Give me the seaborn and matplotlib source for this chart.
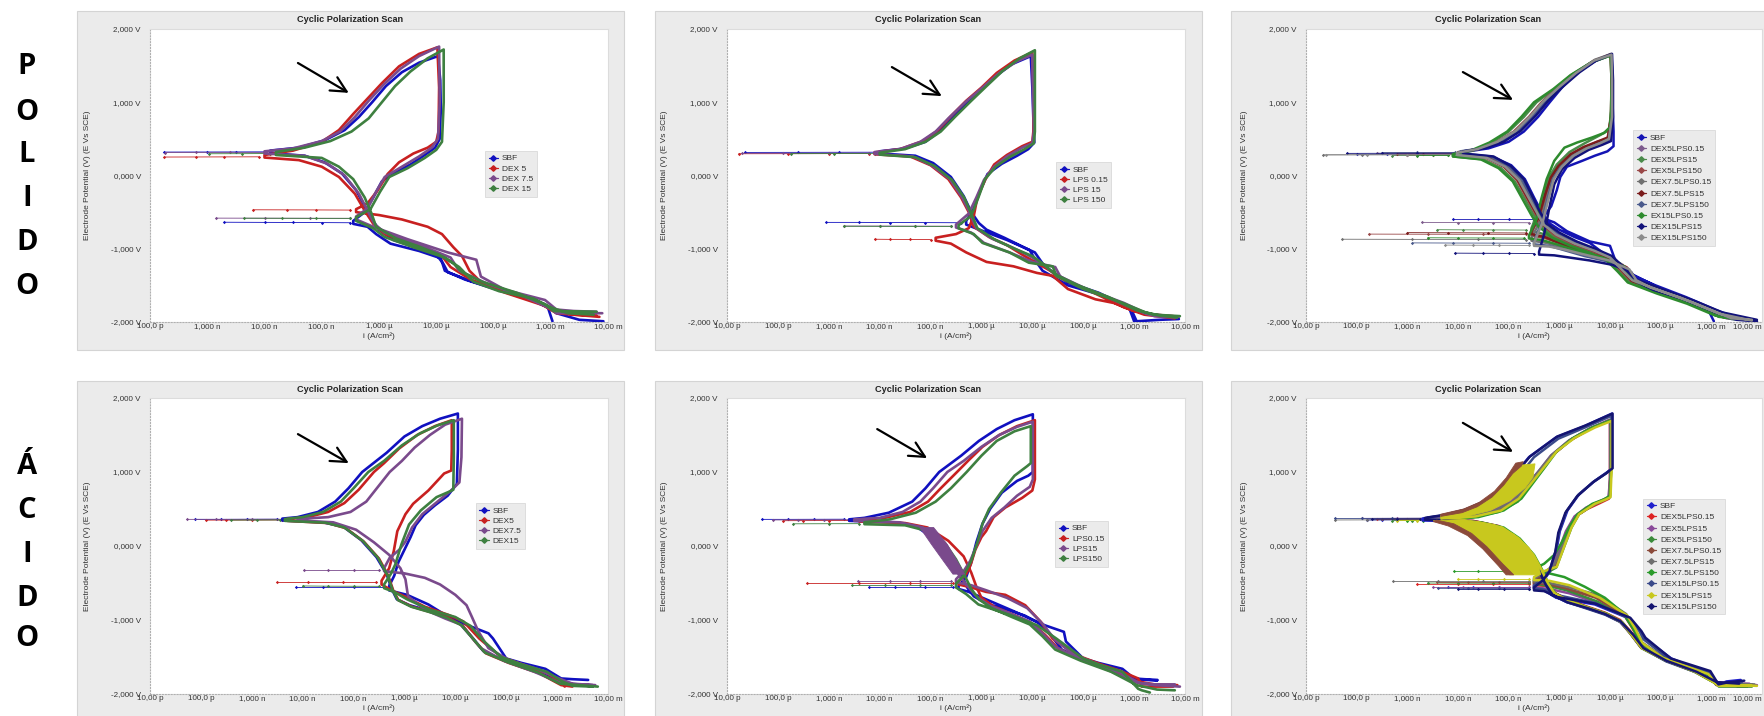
import numpy as np
import pandas as pd
import matplotlib
matplotlib.use("Agg")
import matplotlib.pyplot as plt
import seaborn as sns
from matplotlib.lines import Line2D
from matplotlib.patches import Rectangle, Polygon

# ---------------- DATA (log10 of i [A/cm2], E [V]) ----------------
YTICKS = [-2, -1, 0, 1, 2]
YTICK_LABELS = ["-2,000 V", "-1,000 V", "0,000 V", "1,000 V", "2,000 V"]
XTICKS_A = [-10, -9, -8, -7, -6, -5, -4, -3, -2]
XTICK_LABELS_A = ["100,0 p", "1,000 n", "10,00 n", "100,0 n", "1,000 µ", "10,00 µ", "100,0 µ", "1,000 m", "10,00 m"]
XTICKS_B = [-11, -10, -9, -8, -7, -6, -5, -4, -3, -2]
XTICK_LABELS_B = ["10,00 p", "100,0 p", "1,000 n", "10,00 n", "100,0 n", "1,000 µ", "10,00 µ", "100,0 µ", "1,000 m", "10,00 m"]
ROW_LETTERS_1 = ["P", "O", "L", "I", "D", "O"]
ROW_LETTERS_2 = ["Á", "C", "I", "D", "O"]
TITLE = "Cyclic Polarization Scan"
YLABEL = "Electrode Potential (V) (E Vs SCE)"
XLABEL = "i (A/cm²)"

# ---- Top-left: POLIDO, DEX ----
TL_LABELS = ["SBF", "DEX 5", "DEX 7.5", "DEX 15"]
TL_COLORS = ["#1010c0", "#c82020", "#7a4a8c", "#3e8040"]
TL_SBF = [[-2.08,-1.99],[-2.5,-1.97],[-2.9,-1.88],[-3.1,-1.76],[-3.6,-1.64],[-4.1,-1.52],[-4.5,-1.42],[-4.85,-1.3],[-4.92,-1.13],[-5.3,-1.03],[-5.8,-0.93],[-6.05,-0.8],[-6.2,-0.7],[-6.45,-0.66],
          [-6.45,-0.62],[-6.25,-0.5],[-6.1,-0.3],[-5.95,-0.08],[-5.7,0.05],[-5.45,0.15],[-5.2,0.28],[-5.02,0.38],[-4.94,0.5],[-4.92,0.9],[-4.93,1.3],[-4.97,1.63],[-5.3,1.54],[-5.6,1.41],[-5.88,1.22],[-6.12,1.0],[-6.35,0.8],[-6.6,0.62],[-6.95,0.48],[-7.4,0.38],[-7.9,0.34],
          [-7.9,0.305],[-7.3,0.27],[-6.95,0.18],[-6.65,0.03],[-6.4,-0.2],[-6.25,-0.42],[-6.12,-0.6],[-6.0,-0.74],[-5.75,-0.88],[-5.35,-0.98],[-5.0,-1.08],[-4.88,-1.2],[-4.8,-1.32],[-4.4,-1.44],[-3.9,-1.56],[-3.4,-1.68],[-3.05,-1.8],[-2.97,-1.99]]
TL_SBF_S1 = [[-6.5,-0.645],[-7.0,-0.643],[-7.5,-0.641],[-8.0,-0.64],[-8.7,-0.638]]
TL_SBF_S2 = [[-8.0,0.323],[-8.5,0.322],[-9.0,0.321],[-9.75,0.32]]
TL_DEX5 = [[-2.2,-1.91],[-2.6,-1.9],[-2.9,-1.86],[-3.1,-1.78],[-3.8,-1.6],[-4.2,-1.47],[-4.42,-1.3],[-4.55,-1.1],[-4.7,-0.98],[-4.9,-0.8],[-5.15,-0.7],[-5.6,-0.6],[-6.0,-0.54],[-6.4,-0.5],
           [-6.4,-0.46],[-6.2,-0.38],[-6.02,-0.2],[-5.85,0.02],[-5.65,0.18],[-5.4,0.3],[-5.15,0.38],[-5.0,0.46],[-4.96,0.6],[-4.95,1.2],[-4.98,1.75],[-5.3,1.66],[-5.65,1.49],[-5.95,1.26],[-6.2,1.05],[-6.45,0.84],[-6.7,0.62],[-7.0,0.46],[-7.5,0.34],[-8.0,0.28],
           [-8.0,0.245],[-7.4,0.21],[-7.0,0.12],[-6.7,-0.02],[-6.42,-0.25],[-6.25,-0.48],[-6.1,-0.66],[-5.9,-0.8],[-5.5,-0.92],[-5.15,-1.0],[-4.9,-1.1],[-4.75,-1.25],[-4.4,-1.42],[-3.8,-1.58],[-3.2,-1.74],[-2.9,-1.88],[-2.15,-1.93]]
TL_DEX5_S1 = [[-6.5,-0.472],[-7.1,-0.47],[-7.6,-0.469],[-8.2,-0.468]]
TL_DEX5_S2 = [[-8.1,0.255],[-8.7,0.254],[-9.2,0.253],[-9.75,0.252]]
TL_DEX75 = [[-2.2,-1.86],[-2.6,-1.85],[-2.9,-1.83],[-3.1,-1.7],[-3.8,-1.56],[-4.22,-1.38],[-4.3,-1.15],[-4.8,-1.05],[-5.5,-0.87],[-6.1,-0.7],[-6.4,-0.6],
            [-6.4,-0.56],[-6.2,-0.45],[-6.05,-0.22],[-5.9,-0.02],[-5.6,0.12],[-5.3,0.26],[-5.08,0.38],[-4.97,0.5],[-4.94,1.0],[-4.95,1.76],[-5.3,1.63],[-5.62,1.46],[-5.92,1.24],[-6.18,1.02],[-6.42,0.8],[-6.68,0.6],[-7.0,0.47],[-7.5,0.37],[-8.0,0.33],
            [-8.0,0.3],[-7.3,0.27],[-6.9,0.16],[-6.6,0.0],[-6.35,-0.25],[-6.2,-0.48],[-6.08,-0.66],[-5.9,-0.78],[-5.5,-0.9],[-5.0,-1.04],[-4.75,-1.12],[-4.6,-1.3],[-4.1,-1.48],[-3.5,-1.64],[-3.0,-1.82],[-2.9,-1.88],[-2.1,-1.88]]
TL_DEX75_S1 = [[-6.5,-0.585],[-7.2,-0.584],[-8.0,-0.583],[-8.84,-0.582]]
TL_DEX75_S2 = [[-8.0,0.315],[-8.6,0.315],[-9.2,0.314],[-9.73,0.313]]
TL_DEX15 = [[-2.25,-1.9],[-2.7,-1.88],[-3.0,-1.8],[-3.3,-1.68],[-3.9,-1.58],[-4.35,-1.45],[-4.6,-1.25],[-4.85,-1.12],[-5.4,-0.98],[-5.9,-0.84],[-6.1,-0.72],[-6.4,-0.62],
            [-6.4,-0.57],[-6.15,-0.46],[-5.98,-0.22],[-5.82,-0.02],[-5.5,0.1],[-5.2,0.24],[-5.0,0.35],[-4.9,0.46],[-4.87,1.0],[-4.87,1.72],[-5.15,1.6],[-5.45,1.42],[-5.72,1.22],[-5.95,1.0],[-6.18,0.78],[-6.48,0.6],[-6.85,0.47],[-7.3,0.38],[-7.8,0.32],
            [-7.8,0.28],[-7.0,0.24],[-6.7,0.12],[-6.45,-0.05],[-6.25,-0.3],[-6.13,-0.52],[-6.05,-0.7],[-5.7,-0.86],[-5.3,-0.97],[-4.95,-1.08],[-4.7,-1.2],[-4.55,-1.32],[-4.2,-1.45],[-3.6,-1.6],[-3.1,-1.76],[-2.95,-1.85],[-2.2,-1.86]]
TL_DEX15_S1 = [[-6.5,-0.585],[-7.1,-0.585],[-7.7,-0.584],[-8.36,-0.583]]
TL_DEX15_S2 = [[-7.9,0.3],[-8.4,0.298],[-8.97,0.297]]

# ---- Top-middle: POLIDO, LPS ----
TM_LABELS = ["SBF", "LPS 0.15", "LPS 15", "LPS 150"]
TM_COLORS = ["#1010c0", "#c82020", "#7a4a8c", "#3e8040"]
TM_SBF = [[-2.12,-1.96],[-2.5,-1.97],[-2.95,-1.99],[-3.05,-1.84],[-3.4,-1.7],[-3.7,-1.6],[-4.3,-1.46],[-4.76,-1.24],[-4.95,-1.05],[-5.5,-0.88],[-6.0,-0.75],[-6.3,-0.67],
          [-6.3,-0.62],[-6.15,-0.45],[-6.02,-0.2],[-5.88,0.02],[-5.6,0.16],[-5.3,0.27],[-5.08,0.36],[-4.96,0.45],[-4.97,0.56],[-5.0,1.2],[-5.03,1.63],[-5.4,1.52],[-5.75,1.34],[-6.05,1.15],[-6.29,1.0],[-6.55,0.8],[-6.83,0.6],[-7.1,0.46],[-7.5,0.37],[-8.0,0.33],
          [-8.0,0.3],[-7.3,0.27],[-6.95,0.17],[-6.6,-0.02],[-6.35,-0.28],[-6.2,-0.5],[-6.05,-0.65],[-5.9,-0.74],[-5.55,-0.85],[-5.05,-1.02],[-4.92,-1.18],[-4.8,-1.3],[-4.3,-1.5],[-3.7,-1.62],[-3.1,-1.8],[-3.0,-1.99]]
TM_SBF_S1 = [[-6.4,-0.645],[-7.1,-0.643],[-7.8,-0.642],[-8.4,-0.64],[-9.05,-0.64]]
TM_SBF_S2 = [[-8.0,0.318],[-8.8,0.317],[-9.6,0.316],[-10.65,0.315]]
TM_LPS015 = [[-2.23,-1.92],[-2.6,-1.9],[-3.0,-1.85],[-3.4,-1.74],[-3.76,-1.69],[-4.3,-1.55],[-4.6,-1.37],[-4.91,-1.33],[-5.37,-1.24],[-5.9,-1.18],[-6.3,-1.05],[-6.6,-0.93],[-6.9,-0.89],
             [-6.9,-0.85],[-6.5,-0.8],[-6.25,-0.72],[-6.15,-0.55],[-6.08,-0.3],[-5.92,-0.05],[-5.75,0.15],[-5.5,0.28],[-5.2,0.4],[-5.0,0.46],[-4.98,0.6],[-4.98,1.2],[-5.0,1.68],[-5.35,1.57],[-5.7,1.4],[-6.0,1.2],[-6.3,1.02],[-6.6,0.81],[-6.85,0.62],[-7.15,0.47],[-7.6,0.36],[-8.1,0.315],
             [-8.1,0.29],[-7.4,0.26],[-7.0,0.14],[-6.65,-0.05],[-6.4,-0.3],[-6.25,-0.5],[-6.15,-0.7],[-5.85,-0.84],[-5.5,-0.95],[-5.2,-1.08],[-4.9,-1.2],[-4.65,-1.3],[-4.45,-1.4],[-3.8,-1.6],[-3.2,-1.8],[-2.8,-1.9],[-2.2,-1.95]]
TM_LPS015_S1 = [[-7.0,-0.875],[-7.4,-0.873],[-7.8,-0.872],[-8.1,-0.87]]
TM_LPS015_S2 = [[-8.2,0.3],[-9.0,0.299],[-9.8,0.298],[-10.77,0.297]]
TM_LPS15 = [[-2.16,-1.94],[-2.6,-1.92],[-2.8,-1.87],[-3.2,-1.74],[-3.9,-1.56],[-4.45,-1.38],[-4.55,-1.25],[-5.0,-1.18],[-5.45,-1.05],[-5.95,-0.92],[-6.2,-0.78],[-6.5,-0.71],
            [-6.5,-0.67],[-6.25,-0.52],[-6.1,-0.3],[-5.95,-0.06],[-5.75,0.12],[-5.5,0.26],[-5.2,0.38],[-5.0,0.44],[-4.97,0.6],[-4.99,1.2],[-5.0,1.65],[-5.3,1.56],[-5.65,1.4],[-5.98,1.2],[-6.32,1.0],[-6.65,0.78],[-6.9,0.6],[-7.2,0.46],[-7.6,0.36],[-8.1,0.32],
            [-8.1,0.295],[-7.35,0.26],[-6.98,0.14],[-6.62,-0.05],[-6.38,-0.3],[-6.22,-0.52],[-6.1,-0.72],[-5.8,-0.86],[-5.4,-0.98],[-5.1,-1.08],[-4.85,-1.18],[-4.6,-1.32],[-4.2,-1.48],[-3.6,-1.64],[-3.0,-1.82],[-2.75,-1.89],[-2.12,-1.93]]
TM_LPS15_S1 = [[-6.6,-0.692],[-7.3,-0.691],[-8.0,-0.69],[-8.7,-0.69]]
TM_LPS15_S2 = [[-8.2,0.306],[-9.0,0.305],[-9.9,0.304],[-10.7,0.303]]
TM_LPS150 = [[-2.16,-1.94],[-2.5,-1.91],[-2.77,-1.87],[-3.23,-1.74],[-4.0,-1.55],[-4.53,-1.37],[-4.6,-1.24],[-5.07,-1.19],[-5.45,-1.05],[-5.98,-0.92],[-6.15,-0.8],[-6.45,-0.72],
             [-6.45,-0.68],[-6.2,-0.55],[-6.06,-0.3],[-5.93,-0.05],[-5.72,0.12],[-5.45,0.25],[-5.15,0.36],[-4.97,0.44],[-4.95,0.6],[-4.95,1.2],[-4.95,1.71],[-5.25,1.6],[-5.58,1.43],[-5.9,1.22],[-6.2,1.02],[-6.52,0.8],[-6.8,0.6],[-7.1,0.46],[-7.5,0.36],[-8.0,0.31],
             [-8.0,0.285],[-7.3,0.25],[-6.92,0.13],[-6.58,-0.06],[-6.34,-0.3],[-6.2,-0.52],[-6.08,-0.72],[-5.75,-0.87],[-5.35,-1.0],[-5.0,-1.1],[-4.8,-1.2],[-4.55,-1.35],[-4.1,-1.5],[-3.5,-1.66],[-2.95,-1.84],[-2.6,-1.9],[-2.1,-1.92]]
TM_LPS150_S1 = [[-6.6,-0.695],[-7.3,-0.695],[-8.0,-0.694],[-8.7,-0.693]]
TM_LPS150_S2 = [[-8.1,0.3],[-8.9,0.299],[-9.74,0.298]]

# ---- Top-right: POLIDO, DEX x LPS ----
TR_LABELS = ["SBF", "DEX5LPS0.15", "DEX5LPS15", "DEX5LPS150", "DEX7.5LPS0.15", "DEX7.5LPS15",
             "DEX7.5LPS150", "EX15LPS0.15", "DEX15LPS15", "DEX15LPS150"]
TR_COLORS = ["#1414b4", "#7d5b8c", "#4a8a4a", "#9a4848", "#707070", "#7a1c1c",
             "#4a5a8c", "#2e8b2e", "#12127a", "#8c8c8c"]
TR_SBF = [[-2.95,-1.99],[-3.05,-1.85],[-3.4,-1.72],[-3.9,-1.58],[-4.3,-1.44],[-4.7,-1.3],[-4.9,-1.15],[-5.0,-0.96],[-5.4,-0.9],[-5.85,-0.76],[-6.1,-0.64],[-6.3,-0.59],
          [-6.3,-0.55],[-6.16,-0.42],[-6.05,-0.2],[-5.98,-0.02],[-5.85,0.12],[-5.55,0.2],[-5.3,0.27],[-5.05,0.33],[-4.93,0.4],[-4.93,0.6],[-4.96,1.2],[-4.97,1.65],[-5.3,1.56],[-5.65,1.4],[-5.95,1.2],[-6.19,1.0],[-6.42,0.8],[-6.7,0.6],[-7.0,0.46],[-7.4,0.37],[-7.9,0.32],
          [-7.9,0.29],[-7.3,0.25],[-6.95,0.14],[-6.68,-0.05],[-6.5,-0.3],[-6.35,-0.5],[-6.2,-0.65],[-6.0,-0.74],[-5.7,-0.84],[-5.4,-0.92],[-5.15,-1.05],[-4.9,-1.18],[-4.6,-1.35],[-4.1,-1.5],[-3.5,-1.66],[-2.9,-1.84],[-2.5,-1.94],[-2.1,-1.99]]
TR_SBF_S1 = [[-6.4,-0.6],[-7.0,-0.6],[-7.6,-0.6],[-8.1,-0.6]]
TR_SBF_S2 = [[-8.0,0.3],[-8.7,0.3],[-9.4,0.3],[-10.0,0.3]]
TR_D5L015 = [[-2.3,-1.97],[-2.7,-1.95],[-3.1,-1.82],[-3.7,-1.66],[-4.3,-1.52],[-4.6,-1.38],[-4.75,-1.22],[-5.1,-1.1],[-5.6,-1.0],[-6.0,-0.86],[-6.25,-0.72],[-6.5,-0.66],
             [-6.5,-0.62],[-6.35,-0.45],[-6.22,-0.2],[-6.12,0.0],[-5.95,0.15],[-5.7,0.28],[-5.42,0.38],[-5.15,0.45],[-4.98,0.52],[-4.96,0.8],[-4.96,1.3],[-4.98,1.66],[-5.3,1.57],[-5.68,1.4],[-6.0,1.2],[-6.3,1.0],[-6.56,0.8],[-6.85,0.6],[-7.2,0.45],[-7.6,0.36],[-8.0,0.32],
             [-8.0,0.29],[-7.4,0.25],[-7.05,0.13],[-6.8,-0.05],[-6.6,-0.3],[-6.45,-0.5],[-6.3,-0.66],[-6.05,-0.8],[-5.7,-0.92],[-5.3,-1.02],[-5.0,-1.12],[-4.8,-1.28],[-4.6,-1.42],[-4.0,-1.57],[-3.4,-1.72],[-2.85,-1.88],[-2.4,-1.95]]
TR_D5L015_S1 = [[-6.6,-0.645],[-7.3,-0.643],[-8.0,-0.642],[-8.71,-0.64]]
TR_D5L015_S2 = [[-8.1,0.305],[-8.8,0.304],[-9.6,0.303]]
TR_D5L15 = [[-2.4,-1.96],[-2.8,-1.93],[-3.2,-1.8],[-3.8,-1.64],[-4.35,-1.5],[-4.62,-1.35],[-4.8,-1.2],[-5.2,-1.08],[-5.7,-0.98],[-6.05,-0.88],[-6.3,-0.8],[-6.55,-0.76],
            [-6.55,-0.72],[-6.42,-0.5],[-6.3,-0.25],[-6.2,-0.02],[-6.05,0.15],[-5.8,0.32],[-5.5,0.44],[-5.2,0.55],[-5.02,0.62],[-4.97,0.9],[-4.96,1.3],[-4.98,1.64],[-5.35,1.55],[-5.75,1.38],[-6.1,1.18],[-6.45,1.0],[-6.7,0.8],[-7.0,0.6],[-7.35,0.44],[-7.7,0.34],[-8.1,0.29],
            [-8.1,0.26],[-7.5,0.22],[-7.15,0.1],[-6.88,-0.08],[-6.68,-0.32],[-6.52,-0.52],[-6.38,-0.68],[-6.1,-0.84],[-5.75,-0.95],[-5.35,-1.05],[-5.05,-1.14],[-4.82,-1.3],[-4.62,-1.45],[-4.05,-1.6],[-3.45,-1.74],[-2.9,-1.9],[-2.5,-1.96]]
TR_D5L15_S1 = [[-6.65,-0.745],[-7.3,-0.743],[-7.9,-0.742],[-8.41,-0.74]]
TR_D5L15_S2 = [[-8.2,0.275],[-8.8,0.274],[-9.3,0.273]]
TR_D5L150 = [[-2.35,-1.96],[-2.75,-1.94],[-3.15,-1.82],[-3.75,-1.65],[-4.3,-1.52],[-4.55,-1.4],[-4.68,-1.25],[-5.1,-1.12],[-5.6,-1.02],[-6.0,-0.92],[-6.3,-0.85],[-6.55,-0.82],
             [-6.55,-0.78],[-6.38,-0.55],[-6.26,-0.25],[-6.15,-0.02],[-6.0,0.12],[-5.77,0.28],[-5.5,0.38],[-5.25,0.46],[-5.05,0.5],[-4.98,0.8],[-4.97,1.3],[-4.98,1.65],[-5.32,1.56],[-5.7,1.39],[-6.03,1.2],[-6.35,1.0],[-6.6,0.8],[-6.9,0.6],[-7.25,0.45],[-7.65,0.36],[-8.0,0.31],
             [-8.0,0.275],[-7.45,0.24],[-7.1,0.12],[-6.84,-0.06],[-6.64,-0.31],[-6.48,-0.51],[-6.34,-0.67],[-6.08,-0.82],[-5.72,-0.94],[-5.32,-1.04],[-5.02,-1.13],[-4.78,-1.3],[-4.58,-1.44],[-4.0,-1.58],[-3.4,-1.73],[-2.85,-1.9],[-2.3,-1.97]]
TR_D5L150_S1 = [[-6.65,-0.805],[-7.5,-0.803],[-8.6,-0.802],[-9.76,-0.8]]
TR_D5L150_S2 = [[-8.1,0.285],[-8.5,0.284],[-9.0,0.283]]
TR_D75L015 = [[-2.25,-1.97],[-2.65,-1.95],[-3.05,-1.84],[-3.65,-1.67],[-4.25,-1.53],[-4.5,-1.42],[-4.65,-1.28],[-5.05,-1.15],[-5.55,-1.06],[-5.95,-0.98],[-6.25,-0.92],[-6.55,-0.89],
              [-6.55,-0.85],[-6.36,-0.6],[-6.24,-0.3],[-6.14,-0.05],[-5.98,0.12],[-5.75,0.27],[-5.48,0.37],[-5.22,0.44],[-5.03,0.5],[-4.97,0.8],[-4.96,1.3],[-4.97,1.66],[-5.3,1.58],[-5.66,1.41],[-5.98,1.22],[-6.3,1.02],[-6.55,0.82],[-6.84,0.61],[-7.2,0.46],[-7.6,0.36],[-8.0,0.31],
              [-8.0,0.275],[-7.4,0.24],[-7.05,0.12],[-6.78,-0.06],[-6.58,-0.3],[-6.43,-0.5],[-6.3,-0.66],[-6.05,-0.8],[-5.7,-0.92],[-5.3,-1.03],[-5.0,-1.12],[-4.76,-1.28],[-4.56,-1.43],[-3.98,-1.58],[-3.38,-1.73],[-2.82,-1.89],[-2.2,-1.98]]
TR_D75L015_S1 = [[-6.65,-0.875],[-7.6,-0.873],[-8.9,-0.872],[-10.28,-0.87]]
TR_D75L015_S2 = [[-8.1,0.285],[-9.0,0.284],[-9.9,0.283],[-10.66,0.282]]
TR_D75L15 = [[-2.3,-1.96],[-2.7,-1.94],[-3.1,-1.83],[-3.7,-1.66],[-4.28,-1.52],[-4.52,-1.42],[-4.66,-1.26],[-5.08,-1.13],[-5.58,-1.03],[-5.98,-0.93],[-6.28,-0.84],[-6.55,-0.8],
             [-6.55,-0.76],[-6.4,-0.55],[-6.28,-0.26],[-6.17,-0.03],[-6.02,0.13],[-5.78,0.29],[-5.52,0.39],[-5.26,0.46],[-5.04,0.52],[-4.98,0.8],[-4.97,1.3],[-4.99,1.65],[-5.33,1.56],[-5.7,1.39],[-6.02,1.2],[-6.33,1.0],[-6.58,0.8],[-6.87,0.6],[-7.22,0.45],[-7.62,0.36],[-8.0,0.31],
             [-8.0,0.28],[-7.42,0.245],[-7.08,0.12],[-6.82,-0.06],[-6.62,-0.31],[-6.46,-0.51],[-6.32,-0.67],[-6.06,-0.81],[-5.71,-0.93],[-5.31,-1.03],[-5.01,-1.12],[-4.77,-1.29],[-4.57,-1.44],[-3.99,-1.58],[-3.39,-1.73],[-2.84,-1.89],[-2.25,-1.97]]
TR_D75L15_S1 = [[-6.65,-0.785],[-7.4,-0.783],[-8.2,-0.782],[-9.0,-0.78]]
TR_D75L15_S2 = [[-8.1,0.295],[-8.7,0.294],[-9.2,0.293]]
TR_D75L150 = [[-2.2,-1.98],[-2.6,-1.96],[-3.0,-1.85],[-3.6,-1.68],[-4.2,-1.54],[-4.48,-1.44],[-4.62,-1.3],[-5.0,-1.18],[-5.5,-1.1],[-5.9,-1.02],[-6.2,-0.96],[-6.5,-0.94],
              [-6.5,-0.9],[-6.34,-0.62],[-6.22,-0.3],[-6.12,-0.04],[-5.96,0.12],[-5.72,0.27],[-5.45,0.37],[-5.2,0.44],[-5.02,0.49],[-4.96,0.8],[-4.95,1.3],[-4.97,1.65],[-5.28,1.57],[-5.63,1.41],[-5.95,1.22],[-6.26,1.02],[-6.5,0.82],[-6.8,0.61],[-7.15,0.46],[-7.55,0.37],[-7.95,0.33],
              [-7.95,0.3],[-7.35,0.26],[-7.0,0.13],[-6.74,-0.05],[-6.55,-0.3],[-6.4,-0.5],[-6.27,-0.66],[-6.03,-0.8],[-5.68,-0.91],[-5.28,-1.02],[-4.98,-1.11],[-4.75,-1.27],[-4.55,-1.42],[-3.97,-1.57],[-3.37,-1.72],[-2.8,-1.88],[-2.15,-1.98]]
TR_D75L150_S1 = [[-6.6,-0.925],[-7.3,-0.923],[-8.1,-0.922],[-8.9,-0.92]]
TR_D75L150_S2 = [[-8.05,0.315],[-8.8,0.314],[-9.5,0.313]]
TR_EX15L015 = [[-2.45,-1.95],[-2.85,-1.93],[-3.2,-1.81],[-3.8,-1.65],[-4.35,-1.51],[-4.6,-1.4],[-4.72,-1.24],[-5.15,-1.12],[-5.65,-1.03],[-6.05,-0.94],[-6.35,-0.88],[-6.6,-0.86],
               [-6.6,-0.82],[-6.45,-0.6],[-6.36,-0.33],[-6.25,-0.05],[-6.1,0.2],[-5.9,0.38],[-5.65,0.45],[-5.35,0.52],[-5.12,0.58],[-5.0,0.66],[-4.98,0.9],[-4.97,1.3],[-4.99,1.64],[-5.38,1.54],[-5.78,1.37],[-6.12,1.18],[-6.5,1.0],[-6.75,0.8],[-7.03,0.6],[-7.38,0.45],[-7.75,0.34],[-8.1,0.29],
               [-8.1,0.26],[-7.55,0.22],[-7.2,0.1],[-6.92,-0.08],[-6.72,-0.33],[-6.56,-0.53],[-6.42,-0.69],[-6.14,-0.85],[-5.78,-0.96],[-5.38,-1.06],[-5.08,-1.15],[-4.85,-1.31],[-4.65,-1.46],[-4.08,-1.61],[-3.48,-1.75],[-2.93,-1.91],[-2.55,-1.96]]
TR_EX15L015_S1 = [[-6.7,-0.855],[-7.3,-0.853],[-8.0,-0.852],[-8.6,-0.85]]
TR_EX15L015_S2 = [[-8.2,0.275],[-8.5,0.274],[-8.8,0.273]]
TR_D15L15 = [[-2.1,-1.99],[-2.5,-1.97],[-2.95,-1.86],[-3.55,-1.69],[-4.15,-1.56],[-4.45,-1.46],[-4.58,-1.32],[-4.95,-1.22],[-5.4,-1.16],[-5.8,-1.12],[-6.1,-1.09],[-6.4,-1.08],
             [-6.4,-1.04],[-6.3,-0.8],[-6.2,-0.45],[-6.1,-0.12],[-5.95,0.08],[-5.7,0.24],[-5.42,0.35],[-5.15,0.42],[-4.98,0.47],[-4.94,0.8],[-4.94,1.3],[-4.96,1.66],[-5.27,1.57],[-5.6,1.41],[-5.92,1.22],[-6.22,1.02],[-6.46,0.82],[-6.76,0.61],[-7.1,0.46],[-7.5,0.37],[-7.9,0.33],
             [-7.9,0.3],[-7.3,0.26],[-6.96,0.13],[-6.7,-0.05],[-6.52,-0.3],[-6.38,-0.5],[-6.24,-0.66],[-6.0,-0.78],[-5.66,-0.9],[-5.26,-1.01],[-4.96,-1.1],[-4.72,-1.26],[-4.52,-1.41],[-3.94,-1.56],[-3.34,-1.71],[-2.78,-1.87],[-2.1,-1.97]]
TR_D15L15_S1 = [[-6.5,-1.065],[-7.0,-1.063],[-7.5,-1.062],[-8.06,-1.06]]
TR_D15L15_S2 = [[-8.0,0.305],[-8.8,0.304],[-9.5,0.303],[-10.2,0.302]]
TR_D15L150 = [[-2.2,-1.97],[-2.6,-1.95],[-3.0,-1.84],[-3.6,-1.67],[-4.2,-1.53],[-4.48,-1.43],[-4.62,-1.28],[-5.02,-1.16],[-5.5,-1.08],[-5.9,-1.01],[-6.2,-0.97],[-6.5,-0.96],
              [-6.5,-0.92],[-6.33,-0.64],[-6.21,-0.31],[-6.11,-0.05],[-5.95,0.12],[-5.72,0.27],[-5.46,0.37],[-5.2,0.44],[-5.02,0.5],[-4.96,0.8],[-4.96,1.3],[-4.97,1.65],[-5.31,1.57],[-5.67,1.4],[-6.0,1.21],[-6.32,1.01],[-6.57,0.81],[-6.86,0.61],[-7.22,0.46],[-7.62,0.36],[-8.02,0.31],
              [-8.02,0.28],[-7.43,0.24],[-7.07,0.12],[-6.8,-0.06],[-6.6,-0.31],[-6.44,-0.51],[-6.31,-0.67],[-6.06,-0.81],[-5.7,-0.93],[-5.3,-1.03],[-5.0,-1.12],[-4.76,-1.29],[-4.56,-1.43],[-3.98,-1.58],[-3.38,-1.73],[-2.82,-1.89],[-2.2,-1.98]]
TR_D15L150_S1 = [[-6.6,-0.955],[-7.2,-0.953],[-7.7,-0.952],[-8.25,-0.95]]
TR_D15L150_S2 = [[-8.1,0.285],[-9.0,0.284],[-9.8,0.283],[-10.6,0.282]]

# ---- Bottom-left: ÁCIDO, DEX ----
BL_LABELS = ["SBF", "DEX5", "DEX7.5", "DEX15"]
BL_COLORS = ["#1010c0", "#c82020", "#7a4a8c", "#3e8040"]
BL_SBF = [[-2.39,-1.81],[-2.7,-1.8],[-2.92,-1.79],[-3.23,-1.66],[-3.7,-1.58],[-4.0,-1.52],[-4.26,-1.25],[-4.35,-1.18],[-4.76,-1.07],[-5.2,-0.93],[-5.53,-0.79],[-5.95,-0.66],[-6.3,-0.6],
          [-6.3,-0.54],[-6.2,-0.4],[-6.12,-0.22],[-6.0,-0.05],[-5.88,0.12],[-5.78,0.28],[-5.62,0.42],[-5.4,0.55],[-5.15,0.68],[-4.97,0.84],[-4.95,1.3],[-4.95,1.79],[-5.3,1.72],[-5.65,1.62],[-6.0,1.48],[-6.35,1.26],[-6.83,1.0],[-7.1,0.78],[-7.36,0.6],[-7.7,0.46],[-8.1,0.39],[-8.4,0.37],
          [-8.4,0.345],[-7.6,0.32],[-7.2,0.26],[-6.85,0.08],[-6.55,-0.15],[-6.35,-0.38],[-6.25,-0.58],[-6.15,-0.72],[-5.9,-0.8],[-5.5,-0.88],[-5.2,-0.95],[-4.9,-1.05],[-4.65,-1.25],[-4.45,-1.42],[-4.0,-1.56],[-3.4,-1.7],[-2.95,-1.82],[-2.75,-1.86]]
BL_SBF_S1 = [[-6.4,-0.56],[-7.0,-0.56],[-7.6,-0.56],[-8.13,-0.56]]
BL_SBF_S2 = [[-8.5,0.362],[-9.1,0.361],[-9.6,0.36],[-10.12,0.36]]
BL_DEX5 = [[-2.85,-1.9],[-2.9,-1.85],[-3.2,-1.72],[-3.6,-1.62],[-4.1,-1.5],[-4.53,-1.25],[-4.84,-1.02],[-5.14,-0.93],[-5.6,-0.82],[-6.0,-0.68],[-6.25,-0.6],[-6.45,-0.52],
           [-6.45,-0.47],[-6.3,-0.3],[-6.21,-0.07],[-6.14,0.2],[-5.98,0.43],[-5.83,0.57],[-5.53,0.75],[-5.22,0.98],[-5.08,1.02],[-5.07,1.3],[-5.07,1.7],[-5.4,1.62],[-5.75,1.5],[-6.1,1.32],[-6.4,1.12],[-6.6,1.0],[-6.9,0.76],[-7.18,0.58],[-7.5,0.46],[-7.9,0.39],[-8.3,0.365],
           [-8.3,0.34],[-7.5,0.31],[-7.15,0.24],[-6.8,0.06],[-6.5,-0.17],[-6.32,-0.4],[-6.22,-0.6],[-6.12,-0.73],[-5.85,-0.82],[-5.45,-0.9],[-5.14,-0.97],[-4.85,-1.08],[-4.6,-1.3],[-4.4,-1.45],[-3.95,-1.58],[-3.35,-1.72],[-2.92,-1.88],[-2.7,-1.9]]
BL_DEX5_S1 = [[-6.55,-0.49],[-7.2,-0.49],[-7.9,-0.49],[-8.51,-0.49]]
BL_DEX5_S2 = [[-8.4,0.352],[-9.0,0.351],[-9.5,0.35],[-9.9,0.35]]
BL_DEX75 = [[-2.3,-1.88],[-2.7,-1.86],[-3.0,-1.78],[-3.4,-1.66],[-3.95,-1.54],[-4.35,-1.38],[-4.55,-1.15],[-4.68,-0.95],[-4.78,-0.8],[-5.0,-0.66],[-5.3,-0.52],[-5.6,-0.43],[-6.0,-0.37],[-6.4,-0.34],
            [-6.4,-0.3],[-6.29,-0.16],[-6.1,-0.05],[-5.98,0.06],[-5.85,0.25],[-5.65,0.43],[-5.35,0.6],[-5.1,0.74],[-4.92,0.86],[-4.88,1.2],[-4.87,1.72],[-5.2,1.64],[-5.5,1.5],[-5.8,1.33],[-6.05,1.15],[-6.29,1.0],[-6.52,0.8],[-6.75,0.6],[-7.06,0.46],[-7.5,0.39],[-8.1,0.365],
            [-8.1,0.345],[-7.4,0.32],[-6.95,0.22],[-6.6,0.05],[-6.3,-0.12],[-6.08,-0.3],[-5.98,-0.45],[-5.93,-0.68],[-5.6,-0.86],[-5.2,-0.98],[-4.9,-1.06],[-4.72,-1.2],[-4.5,-1.38],[-4.05,-1.55],[-3.45,-1.7],[-2.9,-1.86],[-2.25,-1.88]]
BL_DEX75_S1 = [[-6.5,-0.32],[-7.0,-0.32],[-7.5,-0.32],[-7.97,-0.32]]
BL_DEX75_S2 = [[-8.2,0.362],[-9.0,0.361],[-9.7,0.36],[-10.27,0.36]]
BL_DEX15 = [[-2.3,-1.9],[-2.7,-1.89],[-2.9,-1.83],[-3.2,-1.7],[-3.7,-1.6],[-4.1,-1.5],[-4.45,-1.28],[-4.7,-1.08],[-5.0,-0.96],[-5.5,-0.86],[-5.95,-0.72],[-6.2,-0.62],[-6.4,-0.57],
            [-6.4,-0.52],[-6.27,-0.38],[-6.18,-0.25],[-6.06,0.02],[-5.91,0.29],[-5.68,0.48],[-5.37,0.66],[-5.1,0.74],[-5.04,0.76],[-5.03,1.2],[-5.03,1.7],[-5.35,1.63],[-5.7,1.52],[-6.05,1.36],[-6.4,1.15],[-6.71,1.0],[-7.0,0.78],[-7.25,0.6],[-7.6,0.46],[-8.0,0.39],[-8.35,0.365],
            [-8.35,0.34],[-7.55,0.315],[-7.18,0.25],[-6.82,0.07],[-6.52,-0.16],[-6.33,-0.4],[-6.23,-0.6],[-6.13,-0.73],[-5.87,-0.82],[-5.47,-0.9],[-5.17,-0.97],[-4.88,-1.07],[-4.62,-1.28],[-4.42,-1.44],[-3.97,-1.57],[-3.37,-1.71],[-2.95,-1.86],[-2.2,-1.9]]
BL_DEX15_S1 = [[-6.5,-0.545],[-7.0,-0.544],[-7.5,-0.543],[-8.0,-0.54]]
BL_DEX15_S2 = [[-8.45,0.352],[-8.9,0.351],[-9.4,0.35]]

# ---- Bottom-middle: ÁCIDO, LPS ----
BM_LABELS = ["SBF", "LPS0.15", "LPS15", "LPS150"]
BM_COLORS = ["#1010c0", "#c82020", "#7a4a8c", "#3e8040"]
BM_SBF = [[-2.54,-1.81],[-2.8,-1.8],[-3.0,-1.79],[-3.23,-1.66],[-3.7,-1.58],[-4.0,-1.52],[-4.34,-1.29],[-4.38,-1.16],[-4.76,-1.07],[-5.37,-0.88],[-5.98,-0.7],[-6.25,-0.62],[-6.45,-0.58],
          [-6.45,-0.54],[-6.3,-0.42],[-6.2,-0.22],[-6.1,0.05],[-5.98,0.3],[-5.83,0.5],[-5.6,0.72],[-5.3,0.88],[-5.08,0.95],[-4.99,1.0],[-4.99,1.4],[-4.99,1.78],[-5.35,1.7],[-5.7,1.58],[-6.05,1.42],[-6.4,1.22],[-6.83,1.0],[-7.1,0.78],[-7.36,0.6],[-7.82,0.45],[-8.3,0.38],[-8.6,0.36],
          [-8.6,0.34],[-7.7,0.32],[-7.25,0.25],[-6.9,0.08],[-6.6,-0.15],[-6.4,-0.38],[-6.28,-0.56],[-6.15,-0.68],[-5.9,-0.78],[-5.5,-0.86],[-5.15,-0.94],[-4.88,-1.04],[-4.62,-1.22],[-4.42,-1.4],[-3.95,-1.55],[-3.35,-1.7],[-2.92,-1.8],[-2.55,-1.82]]
BM_SBF_S1 = [[-6.55,-0.56],[-7.1,-0.56],[-7.7,-0.56],[-8.2,-0.56]]
BM_SBF_S2 = [[-8.7,0.362],[-9.3,0.361],[-9.8,0.36],[-10.31,0.36]]
BM_LPS015 = [[-2.23,-1.9],[-2.6,-1.9],[-2.85,-1.9],[-2.92,-1.79],[-3.3,-1.68],[-3.61,-1.61],[-4.15,-1.47],[-4.6,-1.25],[-4.84,-1.02],[-5.14,-0.8],[-5.53,-0.66],[-5.91,-0.62],[-6.2,-0.56],[-6.45,-0.52],
             [-6.45,-0.48],[-6.3,-0.38],[-6.21,-0.25],[-6.12,-0.05],[-6.0,0.12],[-5.91,0.2],[-5.76,0.39],[-5.53,0.52],[-5.2,0.65],[-5.0,0.75],[-4.95,0.9],[-4.95,1.3],[-4.95,1.7],[-5.3,1.62],[-5.65,1.5],[-5.98,1.34],[-6.25,1.16],[-6.48,1.0],[-6.8,0.78],[-7.05,0.6],[-7.4,0.46],[-7.9,0.38],[-8.4,0.35],
             [-8.4,0.33],[-7.5,0.31],[-7.06,0.25],[-6.65,0.07],[-6.35,-0.14],[-6.2,-0.36],[-6.1,-0.55],[-6.0,-0.7],[-5.75,-0.82],[-5.3,-0.95],[-5.0,-1.05],[-4.75,-1.2],[-4.5,-1.38],[-4.1,-1.52],[-3.5,-1.66],[-3.0,-1.82],[-2.6,-1.87],[-2.15,-1.88]]
BM_LPS015_S1 = [[-6.55,-0.5],[-7.4,-0.5],[-8.4,-0.5],[-9.43,-0.5]]
BM_LPS015_S2 = [[-8.5,0.345],[-9.0,0.344],[-9.5,0.343],[-9.9,0.342]]
BM_LPS15 = [[-2.2,-1.87],[-2.6,-1.87],[-2.9,-1.85],[-3.3,-1.7],[-3.7,-1.6],[-4.2,-1.46],[-4.55,-1.27],[-4.8,-1.05],[-5.1,-0.84],[-5.5,-0.7],[-5.9,-0.6],[-6.2,-0.53],[-6.5,-0.49],
            [-6.5,-0.45],[-6.35,-0.34],[-6.22,-0.2],[-6.1,0.0],[-5.98,0.2],[-5.8,0.38],[-5.55,0.52],[-5.3,0.68],[-5.05,0.8],[-4.99,0.9],[-4.99,1.3],[-4.99,1.68],[-5.3,1.61],[-5.65,1.5],[-6.0,1.34],[-6.35,1.15],[-6.67,1.0],[-6.95,0.78],[-7.2,0.6],[-7.55,0.46],[-8.0,0.38],[-8.5,0.36],
            [-8.5,0.34],[-7.6,0.32],[-7.15,0.25],[-6.85,0.05],[-6.62,-0.18],[-6.45,-0.38],[-6.3,-0.52],[-6.1,-0.68],[-5.85,-0.8],[-5.4,-0.92],[-5.05,-1.02],[-4.8,-1.18],[-4.55,-1.36],[-4.1,-1.52],[-3.5,-1.68],[-3.0,-1.84],[-2.6,-1.88],[-2.1,-1.9]]
BM_LPS15_S1 = [[-6.6,-0.47],[-7.2,-0.47],[-7.8,-0.47],[-8.43,-0.47]]
BM_LPS15_S2 = [[-8.6,0.355],[-9.1,0.354],[-9.6,0.353],[-10.1,0.352]]
BM_LPS150 = [[-2.69,-1.98],[-2.85,-1.95],[-2.92,-1.93],[-3.23,-1.7],[-3.7,-1.6],[-4.0,-1.52],[-4.53,-1.25],[-4.91,-1.07],[-5.45,-0.93],[-6.06,-0.79],[-6.3,-0.65],[-6.5,-0.56],
             [-6.5,-0.51],[-6.35,-0.4],[-6.2,-0.2],[-6.08,0.05],[-5.98,0.3],[-5.85,0.5],[-5.62,0.72],[-5.35,0.95],[-5.1,1.08],[-5.03,1.12],[-5.03,1.62],[-5.35,1.55],[-5.7,1.42],[-6.0,1.22],[-6.29,1.0],[-6.6,0.78],[-6.9,0.6],[-7.29,0.45],[-7.8,0.36],[-8.3,0.32],
             [-8.3,0.295],[-7.5,0.28],[-7.05,0.2],[-6.72,0.04],[-6.5,-0.18],[-6.33,-0.4],[-6.2,-0.58],[-6.05,-0.72],[-5.8,-0.84],[-5.4,-0.96],[-5.05,-1.06],[-4.8,-1.22],[-4.55,-1.4],[-4.05,-1.55],[-3.45,-1.7],[-2.95,-1.88],[-2.55,-1.94],[-2.2,-1.95]]
BM_LPS150_S1 = [[-6.6,-0.53],[-7.2,-0.53],[-7.9,-0.53],[-8.55,-0.53]]
BM_LPS150_S2 = [[-8.4,0.302],[-9.0,0.301],[-9.7,0.3]]
BM_LPS15_BAND = [[-7.21,0.25],[-6.98,0.02],[-6.75,-0.2],[-6.56,-0.38],[-6.33,-0.38],[-6.48,-0.2],[-6.67,0.02],[-6.94,0.25]]

# ---- Bottom-right: ÁCIDO, DEX x LPS ----
BR_LABELS = ["SBF", "DEX5LPS0.15", "DEX5LPS15", "DEX5LPS150", "DEX7.5LPS0.15", "DEX7.5LPS15",
             "DEX7.5LPS150", "DEX15LPS0.15", "DEX15LPS15", "DEX15LPS150"]
BR_COLORS = ["#1f1fcc", "#dd2222", "#8a4a9a", "#3a8a3a", "#8b4a3a", "#6e6e6e",
             "#2a9a2a", "#3a4a8a", "#c8c81e", "#141470"]
BR_SBF = [[-2.42,-1.81],[-2.7,-1.83],[-2.88,-1.88],[-3.03,-1.7],[-3.5,-1.6],[-3.79,-1.52],[-4.32,-1.25],[-4.39,-1.16],[-4.62,-0.98],[-5.3,-0.79],[-6.06,-0.7],[-6.3,-0.6],[-6.5,-0.58],
          [-6.5,-0.54],[-6.3,-0.45],[-6.18,-0.34],[-6.06,-0.07],[-5.99,0.2],[-5.84,0.48],[-5.61,0.7],[-5.3,0.88],[-5.05,1.0],[-4.96,1.05],[-4.96,1.4],[-4.96,1.79],[-5.5,1.62],[-6.06,1.47],[-6.6,1.2],[-6.98,0.88],[-7.43,0.61],[-7.89,0.48],[-8.3,0.41],[-8.7,0.37],
          [-8.7,0.345],[-7.9,0.33],[-7.3,0.26],[-6.95,0.12],[-6.6,-0.12],[-6.4,-0.35],[-6.28,-0.52],[-6.15,-0.66],[-5.85,-0.76],[-5.45,-0.84],[-5.1,-0.92],[-4.8,-1.02],[-4.55,-1.2],[-4.35,-1.38],[-3.9,-1.55],[-3.3,-1.7],[-2.9,-1.84],[-2.5,-1.88]]
BR_SBF_S1 = [[-6.6,-0.56],[-7.2,-0.56],[-7.7,-0.56],[-8.19,-0.56]]
BR_SBF_S2 = [[-8.8,0.355],[-9.2,0.354],[-9.5,0.353],[-9.8,0.352]]
BR_D5L015 = [[-2.3,-1.88],[-2.6,-1.88],[-2.9,-1.86],[-3.1,-1.72],[-3.6,-1.6],[-4.0,-1.5],[-4.4,-1.3],[-4.55,-1.12],[-4.72,-0.93],[-5.3,-0.68],[-5.9,-0.58],[-6.2,-0.54],[-6.5,-0.53],
             [-6.5,-0.49],[-6.3,-0.4],[-6.12,-0.25],[-5.98,-0.02],[-5.85,0.2],[-5.68,0.4],[-5.45,0.5],[-5.2,0.58],[-5.02,0.64],[-5.0,0.9],[-5.0,1.3],[-5.0,1.7],[-5.4,1.58],[-5.8,1.42],[-6.15,1.22],[-6.4,1.0],[-6.65,0.8],[-6.9,0.62],[-7.3,0.48],[-7.8,0.41],[-8.4,0.38],
             [-8.4,0.355],[-7.7,0.34],[-7.2,0.27],[-6.85,0.12],[-6.55,-0.1],[-6.38,-0.3],[-6.26,-0.48],[-6.12,-0.62],[-5.85,-0.72],[-5.45,-0.82],[-5.1,-0.9],[-4.8,-1.0],[-4.6,-1.15],[-4.4,-1.34],[-3.95,-1.52],[-3.35,-1.68],[-2.9,-1.85],[-2.2,-1.87]]
BR_D5L015_S1 = [[-6.6,-0.52],[-7.3,-0.52],[-8.0,-0.52],[-8.8,-0.52]]
BR_D5L015_S2 = [[-8.5,0.365],[-9.0,0.364],[-9.6,0.363]]
BR_D5L15 = [[-2.25,-1.86],[-2.6,-1.86],[-2.88,-1.84],[-3.1,-1.7],[-3.6,-1.58],[-4.0,-1.48],[-4.42,-1.28],[-4.55,-1.1],[-4.7,-0.95],[-5.2,-0.78],[-5.8,-0.64],[-6.2,-0.58],[-6.5,-0.56],
            [-6.5,-0.52],[-6.3,-0.42],[-6.14,-0.27],[-6.0,-0.04],[-5.87,0.2],[-5.7,0.4],[-5.47,0.52],[-5.22,0.6],[-5.03,0.66],[-5.0,0.9],[-5.0,1.3],[-5.0,1.71],[-5.42,1.58],[-5.82,1.42],[-6.17,1.22],[-6.42,1.0],[-6.68,0.8],[-6.94,0.62],[-7.35,0.48],[-7.85,0.41],[-8.45,0.385],
            [-8.45,0.36],[-7.72,0.34],[-7.22,0.27],[-6.87,0.11],[-6.57,-0.11],[-6.4,-0.31],[-6.27,-0.5],[-6.13,-0.64],[-5.86,-0.74],[-5.46,-0.84],[-5.11,-0.92],[-4.81,-1.02],[-4.6,-1.18],[-4.4,-1.36],[-3.95,-1.53],[-3.35,-1.69],[-2.9,-1.86],[-2.1,-1.88]]
BR_D5L15_S1 = [[-6.6,-0.55],[-7.2,-0.55],[-7.9,-0.55],[-8.5,-0.55]]
BR_D5L15_S2 = [[-8.55,0.375],[-9.2,0.374],[-9.9,0.373]]
BR_D5L150 = [[-2.2,-1.9],[-2.55,-1.9],[-2.85,-1.9],[-3.05,-1.74],[-3.55,-1.62],[-3.95,-1.52],[-4.35,-1.32],[-4.5,-1.14],[-4.68,-0.96],[-5.25,-0.75],[-5.85,-0.6],[-6.2,-0.54],[-6.5,-0.51],
             [-6.5,-0.47],[-6.3,-0.38],[-6.06,-0.29],[-5.91,-0.02],[-5.76,0.25],[-5.61,0.43],[-5.3,0.57],[-5.1,0.63],[-5.0,0.66],[-4.98,1.0],[-4.98,1.7],[-5.35,1.6],[-5.75,1.45],[-6.1,1.25],[-6.37,1.0],[-6.6,0.8],[-6.82,0.6],[-7.2,0.46],[-7.7,0.39],[-8.3,0.36],
             [-8.3,0.335],[-7.6,0.32],[-7.15,0.25],[-6.82,0.1],[-6.52,-0.12],[-6.36,-0.32],[-6.24,-0.5],[-6.1,-0.64],[-5.83,-0.74],[-5.43,-0.84],[-5.08,-0.92],[-4.78,-1.03],[-4.58,-1.2],[-4.38,-1.38],[-3.93,-1.54],[-3.33,-1.7],[-2.88,-1.87],[-2.3,-1.9]]
BR_D5L150_S1 = [[-6.6,-0.505],[-7.3,-0.504],[-8.0,-0.503],[-8.6,-0.5]]
BR_D5L150_S2 = [[-8.4,0.345],[-8.9,0.344],[-9.3,0.343]]
BR_D75L015 = [[-2.3,-1.89],[-2.65,-1.89],[-2.9,-1.88],[-3.08,-1.72],[-3.58,-1.61],[-3.98,-1.51],[-4.38,-1.31],[-4.52,-1.12],[-4.7,-0.94],[-5.28,-0.7],[-5.88,-0.57],[-6.2,-0.52],[-6.5,-0.5],
              [-6.5,-0.46],[-6.3,-0.38],[-6.08,-0.27],[-5.93,-0.02],[-5.79,0.24],[-5.64,0.42],[-5.33,0.56],[-5.12,0.62],[-5.01,0.66],[-4.99,1.0],[-4.99,1.7],[-5.38,1.59],[-5.78,1.43],[-6.13,1.23],[-6.4,1.0],[-6.63,0.8],[-6.86,0.61],[-7.25,0.47],[-7.75,0.4],[-8.35,0.37],
              [-8.35,0.345],[-7.65,0.33],[-7.18,0.26],[-6.84,0.11],[-6.54,-0.11],[-6.37,-0.31],[-6.25,-0.49],[-6.11,-0.63],[-5.84,-0.73],[-5.44,-0.83],[-5.09,-0.91],[-4.79,-1.02],[-4.59,-1.19],[-4.39,-1.37],[-3.94,-1.53],[-3.34,-1.69],[-2.89,-1.86],[-2.25,-1.89]]
BR_D75L015_S1 = [[-6.6,-0.49],[-7.2,-0.49],[-7.8,-0.49],[-8.42,-0.49]]
BR_D75L015_S2 = [[-8.45,0.365],[-9.0,0.364],[-9.5,0.363]]
BR_D75L15 = [[-2.15,-1.87],[-2.5,-1.87],[-2.85,-1.87],[-3.05,-1.72],[-3.55,-1.6],[-3.95,-1.5],[-4.38,-1.3],[-4.52,-1.1],[-4.68,-0.92],[-5.25,-0.66],[-5.85,-0.55],[-6.2,-0.5],[-6.5,-0.48],
             [-6.5,-0.44],[-6.3,-0.36],[-6.1,-0.25],[-5.95,-0.02],[-5.82,0.22],[-5.66,0.41],[-5.4,0.53],[-5.15,0.61],[-5.02,0.66],[-4.99,1.0],[-4.99,1.7],[-5.4,1.59],[-5.8,1.43],[-6.15,1.23],[-6.42,1.0],[-6.66,0.8],[-6.9,0.61],[-7.3,0.47],[-7.8,0.4],[-8.4,0.365],
             [-8.4,0.34],[-7.7,0.325],[-7.2,0.26],[-6.86,0.11],[-6.56,-0.11],[-6.39,-0.31],[-6.27,-0.49],[-6.13,-0.63],[-5.86,-0.73],[-5.46,-0.83],[-5.11,-0.91],[-4.81,-1.01],[-4.61,-1.17],[-4.41,-1.35],[-3.96,-1.52],[-3.36,-1.68],[-2.9,-1.85],[-2.2,-1.87]]
BR_D75L15_S1 = [[-6.6,-0.47],[-7.5,-0.47],[-8.4,-0.47],[-9.29,-0.47]]
BR_D75L15_S2 = [[-8.5,0.355],[-9.2,0.354],[-9.8,0.353],[-10.43,0.352]]
BR_D75L150 = [[-2.35,-1.88],[-2.65,-1.88],[-2.9,-1.87],[-3.1,-1.72],[-3.6,-1.6],[-4.0,-1.5],[-4.4,-1.3],[-4.56,-1.1],[-4.75,-0.9],[-5.1,-0.7],[-5.5,-0.55],[-5.9,-0.42],[-6.2,-0.37],[-6.5,-0.35],
              [-6.5,-0.31],[-6.3,-0.24],[-6.1,-0.12],[-5.95,0.05],[-5.8,0.26],[-5.64,0.43],[-5.35,0.57],[-5.12,0.63],[-5.0,0.68],[-4.98,1.0],[-4.98,1.7],[-5.35,1.6],[-5.72,1.46],[-6.05,1.28],[-6.3,1.05],[-6.52,0.85],[-6.75,0.64],[-7.1,0.48],[-7.6,0.39],[-8.2,0.36],
              [-8.2,0.335],[-7.55,0.32],[-7.1,0.25],[-6.78,0.1],[-6.5,-0.12],[-6.34,-0.32],[-6.22,-0.5],[-6.08,-0.64],[-5.8,-0.74],[-5.4,-0.84],[-5.05,-0.92],[-4.76,-1.03],[-4.56,-1.2],[-4.36,-1.38],[-3.92,-1.54],[-3.32,-1.7],[-2.87,-1.87],[-2.4,-1.89]]
BR_D75L150_S1 = [[-6.6,-0.34],[-7.1,-0.34],[-7.6,-0.34],[-8.08,-0.34]]
BR_D75L150_S2 = [[-8.3,0.345],[-8.7,0.344],[-9.0,0.343]]
BR_D15L015 = [[-2.4,-1.84],[-2.7,-1.85],[-2.9,-1.86],[-3.05,-1.71],[-3.52,-1.6],[-3.85,-1.52],[-4.34,-1.26],[-4.42,-1.15],[-4.64,-0.97],[-5.3,-0.77],[-6.0,-0.67],[-6.3,-0.59],[-6.5,-0.57],
              [-6.5,-0.53],[-6.32,-0.44],[-6.19,-0.33],[-6.07,-0.06],[-6.0,0.2],[-5.86,0.47],[-5.63,0.69],[-5.32,0.87],[-5.06,0.99],[-4.97,1.04],[-4.97,1.4],[-4.97,1.76],[-5.5,1.6],[-6.02,1.45],[-6.5,1.2],[-6.85,0.9],[-7.25,0.64],[-7.7,0.5],[-8.2,0.42],[-8.6,0.385],
              [-8.6,0.36],[-7.85,0.345],[-7.27,0.27],[-6.92,0.12],[-6.58,-0.12],[-6.39,-0.35],[-6.27,-0.52],[-6.14,-0.66],[-5.84,-0.76],[-5.44,-0.85],[-5.09,-0.93],[-4.79,-1.03],[-4.54,-1.21],[-4.34,-1.39],[-3.89,-1.56],[-3.29,-1.71],[-2.89,-1.85],[-2.45,-1.86]]
BR_D15L015_S1 = [[-6.6,-0.575],[-7.2,-0.574],[-7.8,-0.573],[-8.4,-0.572]]
BR_D15L015_S2 = [[-8.7,0.375],[-9.3,0.374],[-9.9,0.373],[-10.43,0.372]]
BR_D15L15 = [[-2.2,-1.89],[-2.5,-1.89],[-2.86,-1.89],[-3.06,-1.73],[-3.56,-1.61],[-3.96,-1.51],[-4.36,-1.31],[-4.5,-1.12],[-4.66,-0.94],[-5.2,-0.7],[-5.8,-0.53],[-6.2,-0.47],[-6.5,-0.46],
             [-6.5,-0.42],[-6.3,-0.34],[-6.05,-0.28],[-5.9,0.0],[-5.76,0.25],[-5.61,0.43],[-5.3,0.57],[-5.08,0.63],[-4.99,0.66],[-4.97,1.0],[-4.97,1.69],[-5.3,1.6],[-5.7,1.46],[-6.05,1.28],[-6.32,1.05],[-6.55,0.85],[-6.8,0.64],[-7.15,0.48],[-7.65,0.4],[-8.25,0.365],
             [-8.25,0.34],[-7.6,0.32],[-7.13,0.25],[-6.8,0.1],[-6.51,-0.12],[-6.35,-0.32],[-6.23,-0.5],[-6.09,-0.64],[-5.81,-0.74],[-5.41,-0.84],[-5.06,-0.92],[-4.77,-1.03],[-4.57,-1.2],[-4.37,-1.38],[-3.92,-1.54],[-3.32,-1.7],[-2.88,-1.87],[-2.1,-1.89]]
BR_D15L15_S1 = [[-6.6,-0.45],[-7.1,-0.45],[-7.6,-0.45],[-8.0,-0.45]]
BR_D15L15_S2 = [[-8.35,0.345],[-8.8,0.344],[-9.2,0.343]]
BR_D15L150 = [[-2.35,-1.82],[-2.65,-1.84],[-2.86,-1.87],[-3.02,-1.69],[-3.48,-1.59],[-3.8,-1.52],[-4.3,-1.24],[-4.38,-1.15],[-4.6,-0.97],[-5.28,-0.78],[-6.04,-0.69],[-6.3,-0.61],[-6.5,-0.6],
              [-6.5,-0.56],[-6.32,-0.46],[-6.2,-0.35],[-6.08,-0.08],[-6.02,0.18],[-5.88,0.45],[-5.65,0.67],[-5.34,0.86],[-5.08,0.98],[-4.95,1.05],[-4.95,1.4],[-4.95,1.79],[-5.48,1.63],[-6.04,1.48],[-6.58,1.21],[-6.96,0.9],[-7.4,0.63],[-7.86,0.49],[-8.28,0.42],[-8.65,0.38],
              [-8.65,0.355],[-7.88,0.335],[-7.28,0.265],[-6.93,0.12],[-6.59,-0.12],[-6.39,-0.35],[-6.27,-0.52],[-6.14,-0.66],[-5.84,-0.76],[-5.44,-0.84],[-5.09,-0.92],[-4.79,-1.02],[-4.54,-1.2],[-4.34,-1.38],[-3.89,-1.55],[-3.29,-1.7],[-2.89,-1.84],[-2.45,-1.86]]
BR_D15L150_S1 = [[-6.6,-0.58],[-7.1,-0.58],[-7.6,-0.58],[-8.0,-0.58]]
BR_D15L150_S2 = [[-8.75,0.365],[-9.2,0.364],[-9.7,0.363]]
BR_YELLOW_BAND_UP = [[-8.34,0.42],[-7.89,0.48],[-7.58,0.57],[-7.28,0.70],[-7.05,0.88],[-6.82,1.09],[-6.48,1.11],[-6.52,0.93],[-6.67,0.79],[-6.98,0.61],[-7.36,0.48],[-7.89,0.39],[-8.34,0.36]]
BR_BROWN_BAND_UP = [[-8.34,0.43],[-7.89,0.5],[-7.58,0.59],[-7.28,0.74],[-7.05,0.92],[-6.86,1.12],[-6.71,1.14],[-6.75,1.08],[-6.92,0.98],[-7.1,0.82],[-7.33,0.66],[-7.62,0.53],[-7.92,0.45],[-8.34,0.4]]
BR_YELLOW_BAND_LO = [[-7.89,0.36],[-7.28,0.29],[-6.9,0.16],[-6.6,-0.02],[-6.41,-0.23],[-6.37,-0.39],[-6.98,-0.39],[-7.2,-0.25],[-7.51,-0.02],[-7.81,0.16],[-8.19,0.29],[-8.49,0.34]]
BR_BROWN_BAND_LO = [[-8.49,0.33],[-8.19,0.27],[-7.81,0.14],[-7.51,-0.04],[-7.2,-0.27],[-7.05,-0.39],[-6.9,-0.39],[-7.12,-0.24],[-7.43,-0.01],[-7.73,0.17],[-8.08,0.3],[-8.42,0.35]]

# ---------------- STYLE / LAYOUT ----------------
sns.set_theme(style="white")
plt.rcParams["font.family"] = ["Liberation Sans", "DejaVu Sans"]
plt.rcParams["lines.solid_joinstyle"] = "round"
plt.rcParams["lines.solid_capstyle"] = "round"

W, H = 1765, 716
fig = plt.figure(figsize=(W / 100, H / 100), dpi=100)
fig.patch.set_facecolor("white")

PANELS = [
    dict(labels=TL_LABELS, colors=TL_COLORS,
         series=[(TL_SBF, TL_SBF_S1, TL_SBF_S2), (TL_DEX5, TL_DEX5_S1, TL_DEX5_S2),
                 (TL_DEX75, TL_DEX75_S1, TL_DEX75_S2), (TL_DEX15, TL_DEX15_S1, TL_DEX15_S2)],
         xt=XTICKS_A, xtl=XTICK_LABELS_A, white=(150, 29, 458, 293), gray=(77, 11, 547, 339),
         leg=(0.731, 0.584), arrow=((0.323, 0.884), (0.434, 0.782)), bands=[], edge=False),
    dict(labels=TM_LABELS, colors=TM_COLORS,
         series=[(TM_SBF, TM_SBF_S1, TM_SBF_S2), (TM_LPS015, TM_LPS015_S1, TM_LPS015_S2),
                 (TM_LPS15, TM_LPS15_S1, TM_LPS15_S2), (TM_LPS150, TM_LPS150_S1, TM_LPS150_S2)],
         xt=XTICKS_B, xtl=XTICK_LABELS_B, white=(727, 29, 458, 293), gray=(655, 11, 547, 339),
         leg=(0.718, 0.546), arrow=((0.360, 0.870), (0.469, 0.771)), bands=[], edge=False),
    dict(labels=TR_LABELS, colors=TR_COLORS,
         series=[(TR_SBF, TR_SBF_S1, TR_SBF_S2), (TR_D5L015, TR_D5L015_S1, TR_D5L015_S2),
                 (TR_D5L15, TR_D5L15_S1, TR_D5L15_S2), (TR_D5L150, TR_D5L150_S1, TR_D5L150_S2),
                 (TR_D75L015, TR_D75L015_S1, TR_D75L015_S2), (TR_D75L15, TR_D75L15_S1, TR_D75L15_S2),
                 (TR_D75L150, TR_D75L150_S1, TR_D75L150_S2), (TR_EX15L015, TR_EX15L015_S1, TR_EX15L015_S2),
                 (TR_D15L15, TR_D15L15_S1, TR_D15L15_S2), (TR_D15L150, TR_D15L150_S1, TR_D15L150_S2)],
         xt=XTICKS_B, xtl=XTICK_LABELS_B, white=(1306, 29, 456, 293), gray=(1231, 11, 560, 339),
         leg=(0.717, 0.655), arrow=((0.344, 0.853), (0.454, 0.758)), bands=[], edge=True),
    dict(labels=BL_LABELS, colors=BL_COLORS,
         series=[(BL_SBF, BL_SBF_S1, BL_SBF_S2), (BL_DEX5, BL_DEX5_S1, BL_DEX5_S2),
                 (BL_DEX75, BL_DEX75_S1, BL_DEX75_S2), (BL_DEX15, BL_DEX15_S1, BL_DEX15_S2)],
         xt=XTICKS_B, xtl=XTICK_LABELS_B, white=(150, 398, 458, 296), gray=(77, 381, 547, 345),
         leg=(0.711, 0.645), arrow=((0.323, 0.878), (0.434, 0.780)), bands=[], edge=False),
    dict(labels=BM_LABELS, colors=BM_COLORS,
         series=[(BM_SBF, BM_SBF_S1, BM_SBF_S2), (BM_LPS015, BM_LPS015_S1, BM_LPS015_S2),
                 (BM_LPS15, BM_LPS15_S1, BM_LPS15_S2), (BM_LPS150, BM_LPS150_S1, BM_LPS150_S2)],
         xt=XTICKS_B, xtl=XTICK_LABELS_B, white=(727, 398, 458, 296), gray=(655, 381, 547, 345),
         leg=(0.716, 0.585), arrow=((0.328, 0.895), (0.437, 0.797)),
         bands=[(BM_LPS15_BAND, "#7a4a8c")], edge=False),
    dict(labels=BR_LABELS, colors=BR_COLORS,
         series=[(BR_SBF, BR_SBF_S1, BR_SBF_S2), (BR_D5L015, BR_D5L015_S1, BR_D5L015_S2),
                 (BR_D5L15, BR_D5L15_S1, BR_D5L15_S2), (BR_D5L150, BR_D5L150_S1, BR_D5L150_S2),
                 (BR_D75L015, BR_D75L015_S1, BR_D75L015_S2), (BR_D75L15, BR_D75L15_S1, BR_D75L15_S2),
                 (BR_D75L150, BR_D75L150_S1, BR_D75L150_S2), (BR_D15L015, BR_D15L015_S1, BR_D15L015_S2),
                 (BR_D15L15, BR_D15L15_S1, BR_D15L15_S2), (BR_D15L150, BR_D15L150_S1, BR_D15L150_S2)],
         xt=XTICKS_B, xtl=XTICK_LABELS_B, white=(1306, 398, 456, 296), gray=(1231, 381, 560, 345),
         leg=(0.739, 0.660), arrow=((0.344, 0.916), (0.454, 0.818)),
         bands=[(BR_YELLOW_BAND_UP, "#c8c81e"), (BR_BROWN_BAND_UP, "#8b4a3a"),
                (BR_YELLOW_BAND_LO, "#c8c81e"), (BR_BROWN_BAND_LO, "#8b4a3a")], edge=True),
]


def to_df(points):
    d = pd.DataFrame(points, columns=["logi", "E"])
    d["i"] = 10.0 ** d["logi"]
    return d


TXT = "#333333"
for p in PANELS:
    gx, gy, gw, gh = p["gray"]
    fig.add_artist(Rectangle((gx / W, 1 - (gy + gh) / H), gw / W, gh / H, transform=fig.transFigure,
                             facecolor="#ebebeb", edgecolor="#d4d4d4", lw=0.8, zorder=0))
    cx = gx + gw / 2 if gx + gw <= W else (gx + (W - gx) / 2 - 10)
    fig.text(cx / W, 1 - (gy + 9) / H, TITLE,
             ha="center", va="center", fontsize=6.6, fontweight="bold", color="#222222")
    wx, wy, ww, wh = p["white"]
    ax = fig.add_axes([wx / W, 1 - (wy + wh) / H, ww / W, wh / H])
    ax.set_facecolor("white")
    ax.set_xscale("log")
    xt = p["xt"]
    ax.set_xlim(10.0 ** xt[0], 10.0 ** xt[-1])
    ax.set_ylim(-2, 2)

    nser = len(p["series"])
    for (path, s1, s2), col in zip(p["series"], p["colors"]):
        sns.lineplot(data=to_df(path), x="i", y="E", sort=False, estimator=None, ax=ax,
                     color=col, lw=1.9 if nser <= 4 else 1.8, legend=False, zorder=3)
        for s in (s1, s2):
            sns.lineplot(data=to_df(s), x="i", y="E", sort=False, estimator=None, ax=ax,
                         color=col, lw=0.6, marker="D", markersize=1.7, markeredgewidth=0,
                         legend=False, zorder=2)
    for band, col in p["bands"]:
        bd = to_df(band)
        ax.add_patch(Polygon(np.column_stack([bd["i"], bd["E"]]), closed=True,
                             facecolor=col, edgecolor=col, lw=0.6, zorder=4))

    ax.set_xticks([10.0 ** v for v in xt])
    ax.set_xticklabels(p["xtl"])
    ax.xaxis.set_minor_locator(matplotlib.ticker.NullLocator())
    if p["edge"]:
        ax.get_xticklabels()[-1].set_ha("right")
    ax.set_yticks(YTICKS)
    ax.set_yticklabels(YTICK_LABELS)
    ax.tick_params(axis="both", length=0, labelsize=5.8, labelcolor=TXT)
    ax.tick_params(axis="x", pad=1.0)
    ax.tick_params(axis="y", pad=6.5)
    ax.set_xlabel(XLABEL, fontsize=6.0, color=TXT)
    ax.xaxis.set_label_coords(0.5, -0.035)
    ax.set_ylabel(YLABEL, fontsize=6.0, color=TXT)
    ax.yaxis.set_label_coords(-0.128, 0.5)
    for side in ("top", "right"):
        ax.spines[side].set_color("#dcdcdc")
        ax.spines[side].set_linewidth(0.8)
    for side in ("left", "bottom"):
        ax.spines[side].set_color("#b0b0b0")
        ax.spines[side].set_linewidth(0.8)
        ax.spines[side].set_linestyle(":")

    handles = [Line2D([0], [0], color=c, lw=0.9, marker="D", markersize=2.8) for c in p["colors"]]
    leg = ax.legend(handles, p["labels"], loc="upper left", bbox_to_anchor=p["leg"],
                    borderaxespad=0, fontsize=6.0, frameon=True, fancybox=False,
                    handlelength=1.1, handletextpad=0.5,
                    labelspacing=0.28 if nser <= 4 else 0.4, borderpad=0.45)
    leg.get_frame().set_facecolor("#e6e6e6")
    leg.get_frame().set_edgecolor("#d2d2d2")
    leg.get_frame().set_linewidth(0.6)
    for t in leg.get_texts():
        t.set_color(TXT)
    leg.set_zorder(6)

    (tx, ty), (hx, hy) = p["arrow"]
    ax.annotate("", xy=(hx, hy), xytext=(tx, ty), xycoords="axes fraction", textcoords="axes fraction",
                arrowprops=dict(arrowstyle="->,head_length=1.1,head_width=0.55", lw=1.6, color="black",
                                mutation_scale=10, shrinkA=0, shrinkB=0), zorder=7)

# Row labels
ROW1_Y = [67, 112, 155, 199, 243, 287]
ROW2_Y = [466, 511, 554, 598, 639]
for letter, y in zip(ROW_LETTERS_1, ROW1_Y):
    fig.text(27 / W, 1 - y / H, letter, ha="center", va="center", fontsize=21, fontweight="bold",
             family=["Open Sans", "DejaVu Sans"], color="black")
for letter, y in zip(ROW_LETTERS_2, ROW2_Y):
    fig.text(27 / W, 1 - y / H, letter, ha="center", va="center", fontsize=21, fontweight="bold",
             family=["Open Sans", "DejaVu Sans"], color="black")

fig.savefig("out.png", dpi=100, facecolor="white")
